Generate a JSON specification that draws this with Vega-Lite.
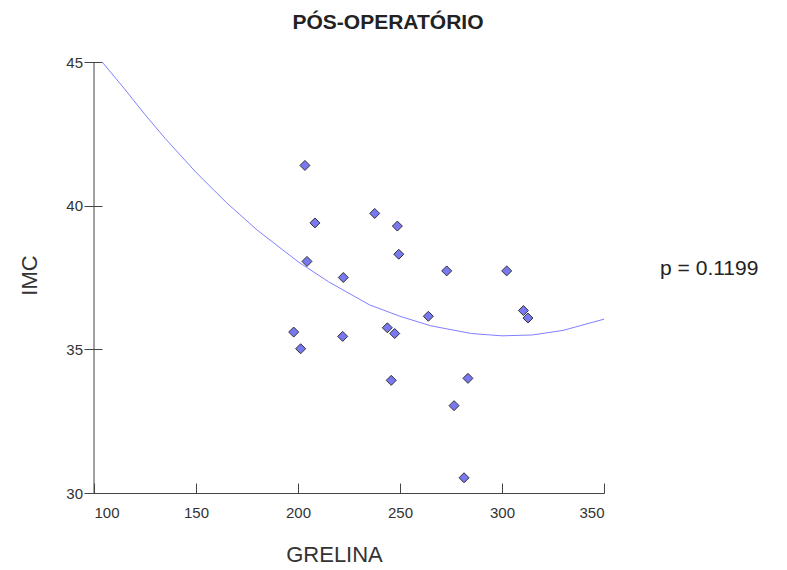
{
  "$schema": "https://vega.github.io/schema/vega-lite/v6.json",
  "autosize": {"type": "none"},
  "width": 510,
  "height": 431,
  "padding": {"left": 94, "top": 62, "right": 183, "bottom": 77},
  "background": "white",
  "config": {
    "view": {"stroke": null},
    "font": "Liberation Sans",
    "axis": {"grid": false, "domainColor": "#444", "tickColor": "#444", "labelColor": "#333", "labelFont": "Liberation Sans", "labelFontSize": 15, "titleFont": "Liberation Sans", "titleFontWeight": "normal", "titleFontSize": 22, "titleColor": "#333"}
  },
  "title": {"text": "PÓS-OPERATÓRIO", "fontSize": 21, "fontWeight": "bold", "color": "#222", "font": "Liberation Sans", "frame": "group", "baseline": "alphabetic", "offset": 5, "dx": 39},
  "datasets": {
    "pts": [
      {"GRELINA": 203.4, "IMC": 41.4},
      {"GRELINA": 208.3, "IMC": 39.4},
      {"GRELINA": 204.4, "IMC": 38.06},
      {"GRELINA": 197.9, "IMC": 35.6},
      {"GRELINA": 201.3, "IMC": 35.02},
      {"GRELINA": 237.6, "IMC": 39.73},
      {"GRELINA": 248.7, "IMC": 39.29},
      {"GRELINA": 249.4, "IMC": 38.31},
      {"GRELINA": 272.9, "IMC": 37.73},
      {"GRELINA": 302.3, "IMC": 37.73},
      {"GRELINA": 222.2, "IMC": 37.5},
      {"GRELINA": 263.9, "IMC": 36.15},
      {"GRELINA": 310.5, "IMC": 36.35},
      {"GRELINA": 312.7, "IMC": 36.09},
      {"GRELINA": 243.8, "IMC": 35.75},
      {"GRELINA": 247.4, "IMC": 35.55},
      {"GRELINA": 221.9, "IMC": 35.45},
      {"GRELINA": 245.7, "IMC": 33.92},
      {"GRELINA": 283.3, "IMC": 33.99},
      {"GRELINA": 276.5, "IMC": 33.04},
      {"GRELINA": 281.4, "IMC": 30.53}
    ],
    "curve": [
      {"GRELINA": 104, "IMC": 45.0},
      {"GRELINA": 115, "IMC": 44.06},
      {"GRELINA": 125, "IMC": 43.17},
      {"GRELINA": 135, "IMC": 42.33},
      {"GRELINA": 150, "IMC": 41.16},
      {"GRELINA": 165, "IMC": 40.1},
      {"GRELINA": 180, "IMC": 39.15},
      {"GRELINA": 200, "IMC": 38.05},
      {"GRELINA": 215, "IMC": 37.35},
      {"GRELINA": 235, "IMC": 36.55},
      {"GRELINA": 250, "IMC": 36.15},
      {"GRELINA": 265, "IMC": 35.82},
      {"GRELINA": 285, "IMC": 35.55},
      {"GRELINA": 300, "IMC": 35.47},
      {"GRELINA": 315, "IMC": 35.5},
      {"GRELINA": 330, "IMC": 35.66},
      {"GRELINA": 350, "IMC": 36.05}
    ],
    "ptext": [{"GRELINA": 377.5, "IMC": 37.8, "label": "p = 0.1199"}]
  },
  "layer": [
    {
      "data": {"name": "curve"},
      "mark": {"type": "line", "color": "#8080ff", "strokeWidth": 1, "clip": false},
      "encoding": {
        "x": {"field": "GRELINA", "type": "quantitative", "scale": {"domain": [100, 350], "nice": false, "zero": false},
          "axis": {"values": [100, 150, 200, 250, 300, 350], "tickSize": -10, "labelPadding": 22, "title": "GRELINA", "titleX": 240, "titleY": 51, "titleBaseline": "top", "titleAnchor": "middle"}},
        "y": {"field": "IMC", "type": "quantitative", "scale": {"domain": [30, 45], "nice": false, "zero": false},
          "axis": {"orient": "left", "offset": -8, "domain": false, "values": [30, 35, 40, 45], "tickSize": 18, "labelPadding": 1.5, "title": "IMC", "titleX": -73, "titleY": 213, "titleBaseline": "middle", "titleAlign": "center"}}
      }
    },
    {
      "data": {"values": [{"v": 100}]},
      "mark": {"type": "rule", "color": "#444", "strokeWidth": 1},
      "encoding": {"x": {"field": "v", "type": "quantitative"}}
    },
    {
      "data": {"name": "pts"},
      "mark": {"type": "point", "shape": "diamond", "filled": true, "fill": "#7878f0", "stroke": "#333", "strokeWidth": 1, "size": 100, "opacity": 1},
      "encoding": {
        "x": {"field": "GRELINA", "type": "quantitative"},
        "y": {"field": "IMC", "type": "quantitative"}
      }
    },
    {
      "data": {"name": "ptext"},
      "mark": {"type": "text", "align": "left", "baseline": "middle", "fontSize": 21, "color": "#222", "font": "Liberation Sans", "clip": false},
      "encoding": {
        "x": {"field": "GRELINA", "type": "quantitative"},
        "y": {"field": "IMC", "type": "quantitative"},
        "text": {"field": "label"}
      }
    }
  ]
}
